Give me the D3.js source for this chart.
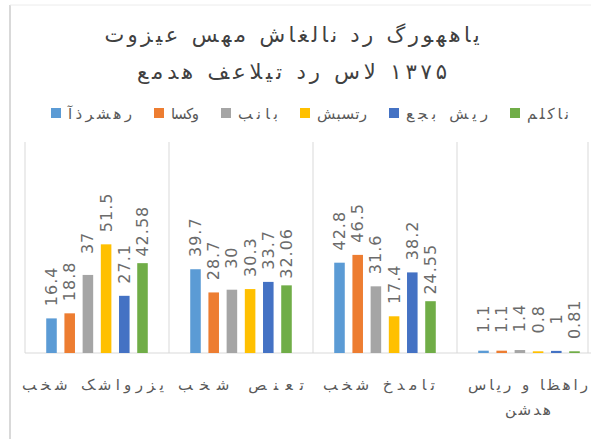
<!DOCTYPE html>
<html><head><meta charset="utf-8">
<script src="https://cdn.jsdelivr.net/npm/d3@7"></script>
<style>
body{margin:0;background:#fff;}
svg text.fa{direction:ltr;unicode-bidi:bidi-override;}
</style></head><body>
<svg id="c" width="591" height="439"></svg>
<script>
const titleLines = ["توزیع سهم  شاغلان در گروههای", "عمده فعالیت در سال ۱۳۷۵"];
const categories = ["بخش کشاورزی", "بخش صنعت", "بخش خدمات", "سایر و اظهار نشده"];
const categoryLines = [["بخش کشاورزی"], ["بخش صنعت"], ["بخش خدمات"], ["سایر و اظهار", "نشده"]];
const seriesNames = ["آذرشهر", "اسکو", "بناب", "شبستر", "عجب شیر", "ملکان"];
const azarshahr = [16.4, 39.7, 42.8, 1.1];
const osku = [18.8, 28.7, 46.5, 1.1];
const bonab = [37, 30, 31.6, 1.4];
const shabestar = [51.5, 30.3, 17.4, 0.8];
const ajabshir = [27.1, 33.7, 38.2, 1];
const malekan = [42.58, 32.06, 24.55, 0.81];
const seriesValues = [azarshahr, osku, bonab, shabestar, ajabshir, malekan];
const colors = ["#5B9BD5", "#ED7D31", "#A5A5A5", "#FFC000", "#4472C4", "#70AD47"];

const svg = d3.select("#c");
const W = 591, H = 439;
const faFont = "'DejaVu Sans', sans-serif";

// frame
svg.append("line").attr("x1",10).attr("x2",10).attr("y1",5).attr("y2",H).attr("stroke","#d9d9d9").attr("stroke-width",2);
svg.append("line").attr("x1",10).attr("x2",W).attr("y1",5).attr("y2",5).attr("stroke","#ececec").attr("stroke-width",1);

const x0 = d3.scaleBand().domain(categories).range([25, 601]);
const x1 = d3.scaleBand().domain(seriesNames).range([17.4, 126.6]).paddingInner(0.42).paddingOuter(0.21);
const y = d3.scaleLinear().domain([0, 100]).range([353, 142]);

// category separators
const bounds = categories.map(c => x0(c)).concat([x0.range()[1]]);
svg.append("g").selectAll("line").data(bounds).join("line")
  .attr("x1", d => d).attr("x2", d => d).attr("y1", y(100)).attr("y2", y(0))
  .attr("stroke", "#d9d9d9").attr("stroke-width", 1);
svg.append("line").attr("x1",588).attr("x2",588).attr("y1",y(100)).attr("y2",y(0)).attr("stroke","#d9d9d9");

// baseline
svg.append("line").attr("x1", 25).attr("x2", W).attr("y1", y(0)).attr("y2", y(0)).attr("stroke", "#d9d9d9");

// bars
const barData = [];
categories.forEach((c, ci) => seriesNames.forEach((s, si) => barData.push({c, s, si, v: seriesValues[si][ci]})));
svg.append("g").selectAll("rect").data(barData).join("rect")
  .attr("x", d => x0(d.c) + x1(d.s)).attr("width", x1.bandwidth())
  .attr("y", d => y(d.v)).attr("height", d => y(0) - y(d.v))
  .attr("fill", d => colors[d.si]);

// value labels
svg.append("g").selectAll("text").data(barData).join("text")
  .attr("transform", d => `translate(${x0(d.c) + x1(d.s) + x1.bandwidth()/2},${y(d.v) - 32}) rotate(-90)`)
  .attr("text-anchor", "middle").attr("dominant-baseline", "central")
  .attr("font-family", "'DejaVu Sans', sans-serif").attr("font-size", 16)
  .attr("letter-spacing", 1)
  .attr("fill", "#6b6b6b").text(d => String(d.v));

// title
const titleWidths = [375, 310];
svg.append("g").selectAll("text").data(titleLines).join("text")
  .attr("class", "fa").attr("x", 292).attr("y", (d, i) => 42 + i * 37)
  .attr("text-anchor", "middle").attr("font-family", faFont).attr("font-size", 21)
  .attr("textLength", (d, i) => titleWidths[i]).attr("lengthAdjust", "spacing")
  .attr("fill", "#404040").text(d => d);

// legend
const legendWidths = [64, 28, 40, 50, 82, 42];
const lg = svg.append("g");
let lx = 0;
seriesNames.forEach((s, i) => {
  const g = lg.append("g");
  g.append("rect").attr("x", lx).attr("y", -5).attr("width", 10).attr("height", 10).attr("fill", colors[i]);
  g.append("text").attr("class", "fa").attr("x", lx + 17).attr("y", 1)
    .attr("dominant-baseline", "central").attr("font-family", faFont).attr("font-size", 15)
    .attr("textLength", legendWidths[i]).attr("lengthAdjust", "spacing")
    .attr("fill", "#595959").text(s);
  lx += 17 + legendWidths[i] + 22;
});
lg.attr("transform", `translate(${(60 + 560 - (lx - 22)) / 2},113)`);

// category labels
const catWidths = [[142], [126], [112], [120, 46]];
const catShift = [-4, 0, -6, -1];
categories.forEach((c, ci) => {
  categoryLines[ci].forEach((line, li) => {
    svg.append("text").attr("class", "fa")
      .attr("x", x0(c) + x0.bandwidth() / 2 + catShift[ci]).attr("y", 385 + li * 25)
      .attr("text-anchor", "middle").attr("dominant-baseline", "central")
      .attr("textLength", catWidths[ci][li]).attr("lengthAdjust", "spacing")
      .attr("font-family", faFont).attr("font-size", 15).attr("fill", "#595959").text(line);
  });
});
</script></body></html>
